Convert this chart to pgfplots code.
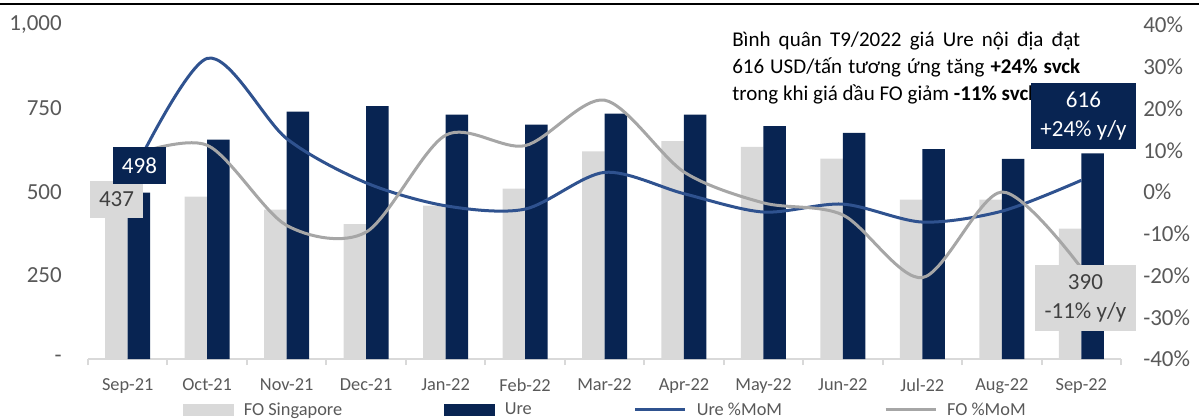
\documentclass[border=0pt]{standalone}
\usepackage{fontspec}
\setmainfont{Carlito}
\usepackage{pgfplots}
\usepackage{pgfplotstable}
\pgfplotsset{compat=1.18}

\definecolor{navy}{RGB}{8,36,82}
\definecolor{bargray}{RGB}{217,217,217}
\definecolor{ureblue}{RGB}{47,82,143}
\definecolor{fogray}{RGB}{166,166,166}
\definecolor{ticktext}{RGB}{89,89,89}
\definecolor{darktext}{RGB}{64,64,64}

% monthly prices (USD/t) and month-on-month change (%)
\pgfplotstableread{
x fo ure uremom fomom
0 437 498 2.0 8.5
1 486 657 32.0 11.2
2 447 741 12.8 -8.0
3 404 757 2.2 -9.6
4 459 732 -3.3 13.6
5 510 702 -4.1 11.1
6 622 735 4.7 22.0
7 652 732 -0.4 4.8
8 635 697 -4.8 -2.6
9 600 677 -2.9 -5.5
10 477 628 -7.2 -20.5
11 477 599 -4.6 0.0
12 390 616 2.8 -18.2
}\data

\newcommand{\tickfont}{\fontsize{17.25pt}{20pt}\selectfont}
\newcommand{\smallfont}{\fontsize{13.75pt}{16pt}\selectfont}

\begin{document}
\begin{tikzpicture}
\path[use as bounding box] (0,0) rectangle (899.25pt,-315pt);
\draw[black, line width=2pt] (0,-3pt) -- (899.25pt,-3pt);

\begin{axis}[
  at={(66pt,-269.25pt)}, anchor=south west,
  scale only axis, width=774.75pt, height=250.5pt,
  xmin=-0.5, xmax=12.5, ymin=0, ymax=1000,
  axis x line*=bottom, axis y line*=left,
  x axis line style={bargray, line width=1.5pt},
  y axis line style={draw=none},
  xtick={-0.5,0.5,...,12.5},
  x tick label as interval,
  xticklabels={Sep-21,Oct-21,Nov-21,Dec-21,Jan-22,Feb-22,Mar-22,Apr-22,May-22,Jun-22,Jul-22,Aug-22,Sep-22},
  tick align=outside,
  major tick length=4.5pt,
  xtick style={bargray, line width=1.5pt},
  xticklabel style={font=\smallfont, text=ticktext, inner sep=0pt, anchor=north, yshift=-10pt},
  ytick={0,250,500,750,1000},
  yticklabels={-\hspace{9pt},250,500,750,{1,000}},
  ytick style={draw=none},
  yticklabel style={font=\tickfont, text=ticktext, inner sep=0pt, anchor=east, xshift=-15pt},
]
\addplot[ybar, bar width=16.875pt, bar shift=-8.4375pt, fill=bargray, draw=none] table[x=x, y=fo] {\data};
\addplot[ybar, bar width=16.875pt, bar shift=8.4375pt, fill=navy, draw=none] table[x=x, y=ure] {\data};
\end{axis}

\begin{axis}[
  at={(66pt,-269.25pt)}, anchor=south west,
  scale only axis, width=774.75pt, height=250.5pt,
  xmin=-0.5, xmax=12.5, ymin=-40, ymax=40,
  axis x line=none, axis y line*=right,
  y axis line style={draw=none},
  ytick={-40,-30,-20,-10,0,10,20,30,40},
  yticklabels={-40\%,-30\%,-20\%,-10\%,0\%,10\%,20\%,30\%,40\%},
  ytick style={draw=none},
  yticklabel style={font=\tickfont, text=ticktext, inner sep=0pt, anchor=west, xshift=16.5pt},
  legend columns=4,
  legend style={at={(0.5,-0.1527)}, anchor=center, draw=none, fill=none,
    font=\smallfont, text=ticktext,
    nodes={inner xsep=0pt},
    /tikz/every odd column/.append style={column sep=7.5pt},
    /tikz/every even column/.append style={column sep=76.5pt}},
]
\addlegendimage{legend image code/.code={\fill[bargray] (0pt,-4.1pt) rectangle (37.5pt,4.1pt);}}
\addlegendentry{FO Singapore}
\addlegendimage{legend image code/.code={\fill[navy] (0pt,-4.1pt) rectangle (37.5pt,4.1pt);}}
\addlegendentry{Ure}
\addplot[ureblue, line width=2.25pt, smooth, no marks,
  legend image code/.code={\draw[ureblue, line width=2.25pt] (0pt,0pt) -- (37.5pt,0pt);}]
  table[x=x, y=uremom] {\data};
\addlegendentry{Ure \%MoM}
\addplot[fogray, line width=2.25pt, smooth, no marks,
  legend image code/.code={\draw[fogray, line width=2.25pt] (0pt,0pt) -- (37.5pt,0pt);}]
  table[x=x, y=fomom] {\data};
\addlegendentry{FO \%MoM}
\end{axis}

\begin{scope}[every node/.style={inner sep=0pt, anchor=base west, font=\fontsize{15.75pt}{19pt}\selectfont}]
\node at (549pt,-34.9pt) {\makebox[261pt][s]{Bình quân T9/2022 giá Ure nội địa đạt}};
\node at (549pt,-55.1pt) {\makebox[261pt][s]{616 USD/tấn tương ứng tăng \textbf{+24\% svck}}};
\node at (549pt,-75.4pt) {trong khi giá dầu FO giảm \textbf{-11\% svck}};
\end{scope}

\node[fill=bargray, text=darktext, inner sep=0pt, minimum width=39.75pt, minimum height=27.75pt, font=\tickfont] at (87.4pt,-149.6pt) {437};
\node[fill=navy, text=white, inner sep=0pt, minimum width=39.75pt, minimum height=27.75pt, font=\tickfont] at (104.6pt,-124.1pt) {498};
\node[fill=navy, text=white, inner sep=0pt, minimum width=78.75pt, minimum height=49.5pt, align=center, font=\fontsize{17.25pt}{21.75pt}\selectfont] at (812.6pt,-87pt) {616\\+24\% y/y};
\node[fill=bargray, text=darktext, inner sep=0pt, minimum width=75.75pt, minimum height=49.5pt, align=center, font=\fontsize{17.25pt}{21.75pt}\selectfont] at (814.1pt,-223.5pt) {390\\-11\% y/y};
\end{tikzpicture}
\end{document}
